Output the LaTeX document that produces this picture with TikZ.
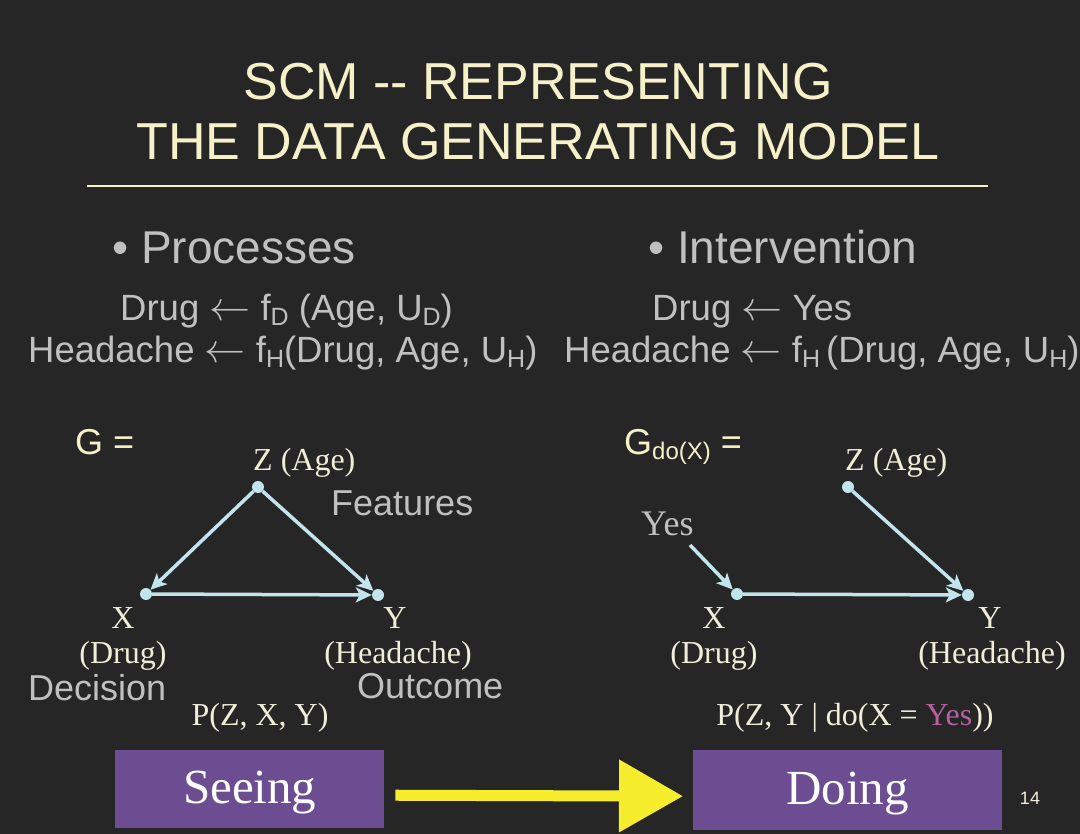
\documentclass[tikz,border=0pt]{standalone}
\usepackage{fontspec}
\setmainfont{Liberation Serif}
\setsansfont{Liberation Sans}
\usetikzlibrary{arrows.meta}
\definecolor{bgc}{HTML}{262626}
\definecolor{titlec}{HTML}{F6F1C9}
\definecolor{grayc}{HTML}{C0C0C0}
\definecolor{labc}{HTML}{F0EED8}
\definecolor{edgec}{HTML}{C2E4EC}
\definecolor{boxc}{HTML}{6C4D92}
\definecolor{pinkc}{HTML}{B4619F}
\definecolor{yelc}{HTML}{F6EE2C}
\newcommand{\lsub}[1]{\raisebox{-0.12em}{\fontsize{25}{25}\selectfont #1}}
\newcommand{\gsub}[1]{\raisebox{-0.12em}{\fontsize{24}{24}\selectfont #1}}
\newcommand{\larr}{\scalebox{4.1}{\fontsize{10}{12}\selectfont$\leftarrow$}}
\begin{document}
\begin{tikzpicture}[x=1pt,y=-1pt,
  title/.style={text=titlec,font=\sffamily\fontsize{52}{56}\selectfont,inner sep=0pt},
  head/.style={text=grayc,font=\sffamily\fontsize{46}{50}\selectfont,inner sep=0pt},
  eq/.style={text=grayc,font=\sffamily\fontsize{36.5}{40}\selectfont,inner sep=0pt},
  gl/.style={text=titlec,font=\sffamily\fontsize{36}{40}\selectfont,inner sep=0pt},
  lab/.style={text=labc,font=\rmfamily\fontsize{32}{36}\selectfont,inner sep=0pt},
  note/.style={text=grayc,font=\sffamily\fontsize{36}{40}\selectfont,inner sep=0pt},
  dot/.style={circle,fill=edgec,inner sep=0pt,minimum size=12pt},
  edge/.style={draw=edgec,line width=3.5pt,-{Stealth[length=16pt,width=15pt,inset=4pt]}},
  box/.style={fill=boxc,text=white,font=\rmfamily\fontsize{49}{52}\selectfont,inner sep=0pt,anchor=north west}
]
\fill[bgc] (0,0) rectangle (1080,834);
\useasboundingbox (0,0) rectangle (1080,834);
% title
\node[title,anchor=base] (t1) at (538,100) {SCM -{}- REPRESENTING};
\node[title,anchor=base] (t2) at (538,160) {THE DATA GENERATING MODEL};
\coordinate (rl) at (87,186);
\coordinate (rr) at (988,186);
\draw[titlec,line width=1.2pt] (rl) -- (rr);
% headings
\node[head,anchor=base west] (h1) at (112,264) {\textbullet\ Processes};
\node[head,anchor=base west] (h2) at (648,264) {\textbullet\ Intervention};
% equations
\node[eq,anchor=base west] (e1) at (120,321) {Drug \larr\ f\lsub{D} (Age, U\lsub{D})};
\node[eq,anchor=base west] (e2) at (28,363) {Headache \larr\ f\lsub{H}(Drug, Age, U\lsub{H})};
\node[eq,anchor=base west] (e3) at (652,321) {Drug \larr\ Yes};
\node[eq,anchor=base west] (e4) at (564,363) {Headache \larr\ f\lsub{H}\,(Drug, Age, U\lsub{H})};
% left graph
\node[gl,anchor=base west] (g1) at (75,455) {G =};
\node[lab,anchor=base west] (zl) at (253,471) {Z (Age)};
\node[note,anchor=base west] (feat) at (331,515) {Features};
\node[dot] (z) at (258,487) {};
\node[dot] (x) at (146,594) {};
\node[dot] (y) at (378,595) {};
\draw[edge] (z) -- (x);
\draw[edge] (z) -- (y);
\draw[edge] (x) -- (y);
\node[lab,anchor=base] (xl) at (123,628) {X};
\node[lab,anchor=base] (xd) at (123,663) {(Drug)};
\node[lab,anchor=base] (yl) at (395,628) {Y};
\node[lab,anchor=base] (yd) at (398,663) {(Headache)};
\node[note,anchor=base west] (dec) at (28,700) {Decision};
\node[note,anchor=base west] (out) at (357,698) {Outcome};
\node[lab,anchor=base] (p1) at (260,725) {P(Z, X, Y)};
% right graph
\node[gl,anchor=base west] (g2) at (624,455) {G\gsub{do(X)} =};
\node[lab,anchor=base west] (zl2) at (845,471) {Z (Age)};
\node[dot] (z2) at (848,487) {};
\node[dot] (x2) at (737,594) {};
\node[dot] (y2) at (968,595) {};
\node[lab,text=grayc,font=\rmfamily\fontsize{36}{40}\selectfont,anchor=base west] (yes) at (641,535) {Yes};
\coordinate (ys) at (690,545);
\draw[edge] (ys) -- (x2);
\draw[edge] (z2) -- (y2);
\draw[edge] (x2) -- (y2);
\node[lab,anchor=base] (xl2) at (714,628) {X};
\node[lab,anchor=base] (xd2) at (714,663) {(Drug)};
\node[lab,anchor=base] (yl2) at (990,628) {Y};
\node[lab,anchor=base] (yd2) at (992,663) {(Headache)};
\node[lab,anchor=base] (p2) at (855,725) {P(Z, Y | do(X = \textcolor{pinkc}{Yes}))};
% boxes
\node[box,minimum width=269pt,minimum height=78pt,text depth=4pt] (seeing) at (115,750) {Seeing};
\node[box,minimum width=309pt,minimum height=80pt,text depth=4pt] (doing) at (693,750) {Doing};
\draw[yelc,line width=11pt,-{Triangle[length=64pt,width=70pt]},shorten <=11pt,shorten >=10pt]
  ([yshift=-6pt]seeing.east) -- ([yshift=-6pt]doing.west);
\node[text=labc,font=\sffamily\fontsize{18}{20}\selectfont,inner sep=0pt] (pg) at (1030,798) {14};
\end{tikzpicture}
\end{document}
